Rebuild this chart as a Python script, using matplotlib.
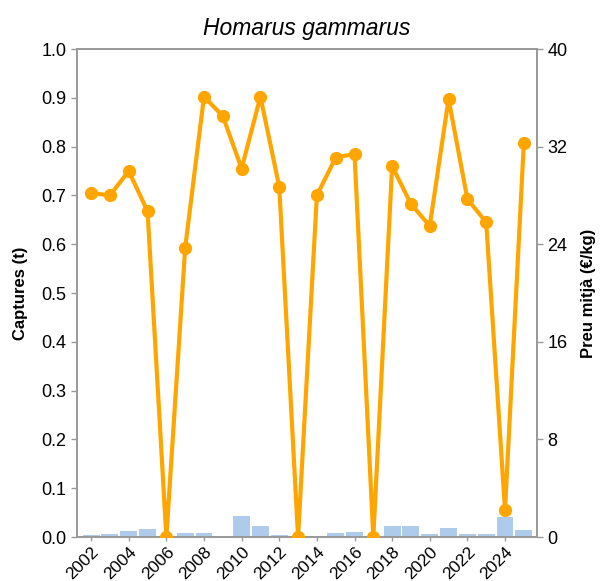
import matplotlib
matplotlib.use("Agg")
import matplotlib.pyplot as plt

plt.rcParams['font.family'] = ['Liberation Sans', 'DejaVu Sans']

years = list(range(2002, 2026))
captures_t = [0.004, 0.007, 0.012, 0.016, 0.0, 0.008, 0.008, 0.001, 0.043, 0.023,
              0.005, 0.0, 0.003, 0.008, 0.010, 0.0, 0.023, 0.022, 0.007, 0.019,
              0.006, 0.006, 0.042, 0.014]
price_eur_kg = [28.2, 28.0, 30.0, 26.7, 0.0, 23.7, 36.1, 34.5, 30.2, 36.1,
                28.7, 0.0, 28.0, 31.1, 31.4, 0.0, 30.4, 27.3, 25.5, 35.9,
                27.7, 25.8, 2.2, 32.3]
xtick_years = list(range(2002, 2026, 2))

spine_grey = '#999999'

fig = plt.figure(figsize=(6.09, 5.81), dpi=100)
ax = fig.add_axes([77 / 609, 44 / 581, 460 / 609, 488 / 581])
ax2 = ax.twinx()

ax.bar(years, captures_t, width=0.9, color='#aecbeb', zorder=1)
ax2.plot(years, price_eur_kg, color='#ffa500', linewidth=3, marker='o',
         markersize=8.5, zorder=3)

ax.set_xlim(2001.25, 2025.7)
ax.set_ylim(0, 1.0)
ax.set_yticks([i / 10 for i in range(11)])
ax2.set_ylim(0, 40)
ax2.set_yticks([0, 8, 16, 24, 32, 40])
ax.set_xticks(xtick_years)
ax.set_xticklabels([str(y) for y in xtick_years], rotation=45, ha='right',
                   rotation_mode='anchor')

for a in (ax, ax2):
    for s in a.spines.values():
        s.set_color(spine_grey)
        s.set_linewidth(1.2)
    a.tick_params(labelsize=13, color=spine_grey, length=4, width=1)
ax.tick_params(axis='x', labelsize=12.5, pad=2, length=3)

ax.set_ylabel('Captures (t)', fontsize=12, fontweight='bold', labelpad=10)
ax2.set_ylabel('Preu mitjà (€/kg)', fontsize=12, fontweight='bold', labelpad=10)
ax.set_title('Homarus gammarus', fontsize=16.5, style='italic', pad=10)

fig.savefig('out.png', dpi=100)
